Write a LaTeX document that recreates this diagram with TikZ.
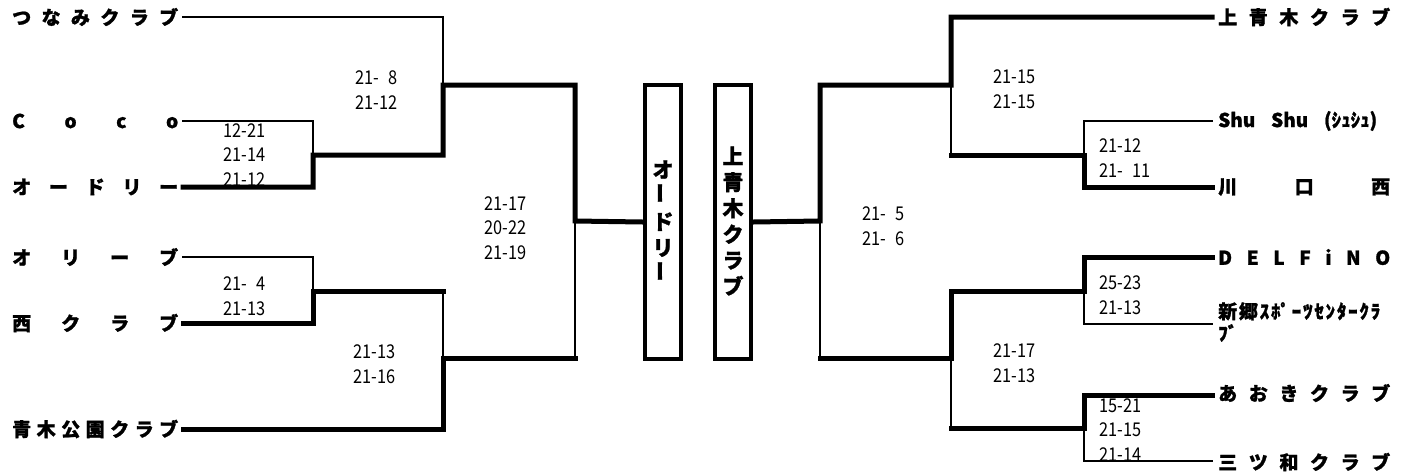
\documentclass[tikz,border=0pt]{standalone}
\usepackage{fontspec}
\setmainfont{Noto Sans CJK JP}
\newfontfamily\nmfont{Noto Sans CJK JP}[BoldFeatures={FakeBold=1.2}]
\newfontfamily\scfont{Noto Sans CJK JP}[FakeStretch=0.86]
\tikzset{
  lose/.style={line width=2pt, line join=miter, line cap=rect},
  win/.style={line width=5pt, line join=miter, line cap=rect},
  nm/.style={inner sep=0pt, anchor=west, font=\nmfont\fontsize{19}{22}\selectfont\bfseries},
  sc/.style={inner sep=0pt, anchor=west, align=left, font=\scfont\fontsize{19}{24.5}\selectfont},
  finbox/.style={draw, line width=4.5pt, minimum width=36pt, minimum height=274pt, inner sep=0pt},
  vt/.style={inner sep=0pt, align=center, font=\nmfont\fontsize{21}{26}\selectfont\bfseries},
}
\newcommand\spread[2]{\makebox[#1pt][s]{#2}}
\newcommand\vbar{\rotatebox{90}{ー}}
\newcommand\ph{\hphantom{0}}
\begin{document}
\begin{tikzpicture}[x=1pt,y=-1pt]
\useasboundingbox (0,0) rectangle (1404,472);
% ---- names left
\node[nm] (n1) at (12,17)  {\spread{166}{つ\hfill な\hfill み\hfill ク\hfill ラ\hfill ブ}};
\node[nm] (n2) at (12,121) {\spread{166}{C\hfill o\hfill c\hfill o}};
\node[nm] (n3) at (12,187) {\spread{166}{オ\hfill ー\hfill ド\hfill リ\hfill ー}};
\node[nm] (n4) at (12,257) {\spread{166}{オ\hfill リ\hfill ー\hfill ブ}};
\node[nm] (n5) at (12,323) {\spread{166}{西\hfill ク\hfill ラ\hfill ブ}};
\node[nm] (n6) at (12,429) {\spread{166}{青\hfill 木\hfill 公\hfill 園\hfill ク\hfill ラ\hfill ブ}};
% ---- names right
\node[nm] (m1) at (1218,17)  {\spread{172}{上\hfill 青\hfill 木\hfill ク\hfill ラ\hfill ブ}};
\node[nm] (m2) at (1218,121) {\spread{159}{Shu\hfill Shu\hfill (ｼｭｼｭ)}};
\node[nm] (m3) at (1218,187) {\spread{172}{川\hfill 口\hfill 西}};
\node[nm] (m4) at (1218,257) {\spread{172}{D\hfill E\hfill L\hfill F\hfill i\hfill N\hfill O}};
\node[nm, align=left] (m5) at (1218,322) {\spread{162}{新\hfill 郷\hfill ｽ\hfill ﾎﾟ\hfill ｰ\hfill ﾂ\hfill ｾ\hfill ﾝ\hfill ﾀ\hfill ｰ\hfill ｸ\hfill ﾗ}\\ﾌﾞ};
\node[nm] (m6) at (1218,393) {\spread{172}{あ\hfill お\hfill き\hfill ク\hfill ラ\hfill ブ}};
\node[nm] (m7) at (1218,462) {\spread{172}{三\hfill ツ\hfill 和\hfill ク\hfill ラ\hfill ブ}};
% ---- scores
\node[sc] (s1)  at (355,90)   {21-\ph 8\\21-12};
\node[sc] (s2)  at (223,155)  {12-21\\21-14\\21-12};
\node[sc] (s3)  at (484,228)  {21-17\\20-22\\21-19};
\node[sc] (s4)  at (223,296)  {21-\ph 4\\21-13};
\node[sc] (s5)  at (353,364)  {21-13\\21-16};
\node[sc] (s6)  at (993,89)   {21-15\\21-15};
\node[sc] (s7)  at (1099,158) {21-12\\21-\ph 11};
\node[sc] (s8)  at (862,226)  {21-\ph 5\\21-\ph 6};
\node[sc] (s9)  at (1099,295) {25-23\\21-13};
\node[sc] (s10) at (993,363)  {21-17\\21-13};
\node[sc] (s11) at (1099,430) {15-21\\21-15\\21-14};
% ---- finalist boxes
\node[finbox] (boxL) at (663,222) {};
\node[finbox] (boxR) at (733,222) {};
\node[vt] (tL) at (663,221) {オ\\\vbar\\ド\\リ\\\vbar};
\node[vt] (tR) at (733,221) {上\\青\\木\\ク\\ラ\\ブ};
% ---- coordinates left
\coordinate (a1) at (183,17);
\coordinate (a2) at (183,121);
\coordinate (a3) at (183,187);
\coordinate (a4) at (183,257);
\coordinate (a5) at (183,323);
\coordinate (a6) at (183,429);
\coordinate (j12) at (313,155);
\coordinate (j45) at (313,291);
\coordinate (jA) at (443,85);
\coordinate (jC) at (443,291);
\coordinate (jB) at (443,358);
\coordinate (jD) at (575,358);
\coordinate (jL) at (575,221);
% ---- coordinates right
\coordinate (b1) at (1212,17);
\coordinate (b2) at (1212,121);
\coordinate (b3) at (1212,187);
\coordinate (b4) at (1212,257);
\coordinate (b5) at (1212,324);
\coordinate (b6) at (1212,395);
\coordinate (b7) at (1212,461);
\coordinate (k23) at (1084,155);
\coordinate (k45) at (1084,291);
\coordinate (k67) at (1084,428);
\coordinate (kA) at (951,85);
\coordinate (kC) at (951,155);
\coordinate (kD) at (951,291);
\coordinate (kB) at (951,358);
\coordinate (kE) at (951,428);
\coordinate (kR) at (820,221);
\coordinate (kF) at (820,358);
% ---- left bracket
\draw[lose] (a1) -| (jA);
\draw[lose] (a2) -| (j12);
\draw[win] (a3) -| (j12) -| (jA) -| (jL) -- (boxL.west);
\draw[lose] (a4) -| (j45);
\draw[win] (a5) -| (j45) -- (jC);
\draw[lose] (jC) -- (jB);
\draw[win] (a6) -| (jB) -- (jD);
\draw[lose] (jD) -- (jL);
% ---- right bracket
\draw[win] (b1) -| (kA) -| (kR) -- (boxR.east);
\draw[lose] (kA) -- (kC);
\draw[lose] (b2) -| (k23);
\draw[win] (b3) -| (k23) -- (kC);
\draw[win] (b4) -| (k45) -- (kD) -- (kB) -- (kF);
\draw[lose] (kF) -- (kR);
\draw[lose] (b5) -| (k45);
\draw[win] (b6) -| (k67) -- (kE);
\draw[lose] (kE) -- (kB);
\draw[lose] (b7) -| (k67);
\end{tikzpicture}
\end{document}
